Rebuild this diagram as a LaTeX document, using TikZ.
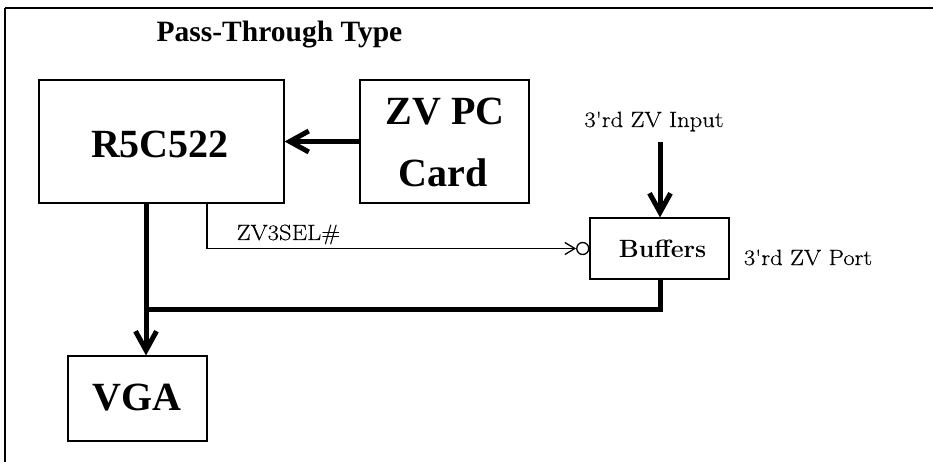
\documentclass[tikz,border=0pt]{standalone}
\usepackage{fontspec}
\usetikzlibrary{arrows.meta}
\newfontfamily\tnrb{Liberation Serif}
\newfontfamily\centf[FakeStretch=1.12,FakeBold=0.4]{Latin Modern Roman}
\tikzset{
  blk/.style={draw, line width=1.2pt, inner sep=0pt, rectangle},
  bigtxt/.style={anchor=base, inner sep=0pt, font=\tnrb\bfseries\fontsize{40}{40}\selectfont},
  smalltxt/.style={anchor=base, inner sep=0pt, font=\centf\fontsize{22}{22}\selectfont},
  thickconn/.style={line width=5pt},
  bigarrow/.style={thickconn, -{Straight Barb[length=19pt,width=21pt]}},
  thinconn/.style={line width=1.3pt}
}
\begin{document}
\begin{tikzpicture}[x=1pt,y=-1pt]
\useasboundingbox (0,0) rectangle (933,462);
% frame
\coordinate (ftl) at (5,8);
\coordinate (ftr) at (933,8);
\coordinate (fbl) at (5,462);
\draw[line width=2.2pt] (ftl) -- (ftr);
\draw[line width=1.6pt] (ftl) -- (fbl);
% title
\node[anchor=base, inner sep=0pt, font=\tnrb\bfseries\fontsize{29.5}{30}\selectfont] (title) at (279.5,42) {Pass-Through Type};
% boxes
\node[blk, minimum width=245pt, minimum height=123pt] (r5) at (161.5,141.5) {};
\node[blk, minimum width=169pt, minimum height=123pt] (zv) at (444.5,141.5) {};
\node[blk, minimum width=139pt, minimum height=61pt] (buf) at (659.5,248.5) {};
\node[blk, minimum width=139pt, minimum height=85pt] (vga) at (137.5,398.5) {};
% box labels
\node[bigtxt] (r5t) at (160,158) {R5C522};
\node[bigtxt] (zvt1) at (445,125) {ZV PC};
\node[bigtxt] (zvt2) at (443,187) {Card};
\node[bigtxt] (vgat) at (137,410) {VGA};
\node[anchor=base, inner sep=0pt, font=\fontsize{25}{25}\selectfont\bfseries] (buft) at (662.5,257) {Buffers};
% other labels
\node[smalltxt] (inp) at (654,127) {3'rd ZV Input};
\node[smalltxt] (port) at (808,265) {3'rd ZV Port};
\node[smalltxt] (sel) at (288.5,240) {ZV3SEL\#};
% connectors
\draw[bigarrow] (zv.west) -- (r5.east);
\coordinate (inptop) at (660,142);
\draw[bigarrow] (inptop) -- (buf.north -| inptop);
\coordinate (vx) at (146,309);
\draw[bigarrow] (r5.south -| vx) -- (vga.north -| vx);
\draw[thickconn] (buf.south -| inptop) |- (vx);
% ZV3SEL# with inverting bubble
\node[draw, circle, line width=1.3pt, minimum size=12pt, inner sep=0pt, anchor=east] (bub) at (buf.west |- 0,248.5) {};
\coordinate (selx) at (207,248.5);
\draw[thinconn, -{Straight Barb[length=10pt,width=12pt]}] (r5.south -| selx) |- (bub.west);
\end{tikzpicture}
\end{document}
